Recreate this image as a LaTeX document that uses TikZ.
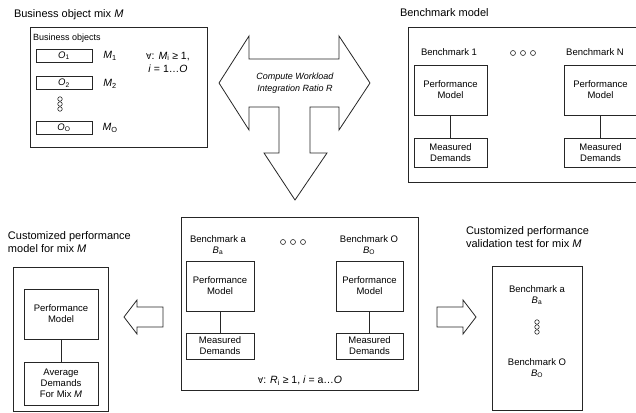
\documentclass[tikz,border=0pt]{standalone}
\usepackage{fontspec}
\setmainfont{Liberation Sans}
\newfontfamily\symfont{DejaVu Sans}
\newcommand\vsub[2]{\textit{#1}\textsubscript{#2}}
\begin{document}
\begin{tikzpicture}[x=1pt,y=-1pt,
  every node/.style={inner sep=0pt, outer sep=0pt},
  frame/.style={draw=black!85, line width=0.8pt},
  box/.style={draw=black!85, line width=0.8pt, align=center, font=\fontsize{9.5}{11}\selectfont},
  title/.style={align=left, anchor=west, font=\fontsize{11}{13}\selectfont},
  lbl/.style={align=center, font=\fontsize{9.5}{11}\selectfont},
  link/.style={draw=black!85, line width=0.8pt},
  dot/.style={circle, draw=black!85, line width=0.6pt, minimum size=5pt},
  bigarrow/.style={draw=black!85, line width=0.8pt, fill=white}
]
\useasboundingbox (0,0) rectangle (636,412);

% ---------- Business object mix ----------
\node[title] (t1) at (14,15) {Business object mix \textit{M}};
\node[frame, minimum width=177pt, minimum height=120pt] (f1) at (118.5,87) {};
\node[anchor=west, font=\fontsize{9}{10}\selectfont] (bo) at (33,38) {Business objects};
\node[box, minimum width=56pt, minimum height=13pt] (o1) at (64,55.5) {\vsub{O}{1}};
\node[box, minimum width=56pt, minimum height=13pt] (o2) at (64,83) {\vsub{O}{2}};
\node[box, minimum width=56pt, minimum height=13pt] (o3) at (64,127.5) {\vsub{O}{O}};
\node[dot, minimum size=4.5pt] (c1) at (60,99) {};
\node[dot, minimum size=4.5pt] (c2) at (60,104) {};
\node[dot, minimum size=4.5pt] (c3) at (60,109) {};
\node[lbl, font=\fontsize{10.5}{12}\selectfont] (m1) at (110,56) {\vsub{M}{1}};
\node[lbl, font=\fontsize{10.5}{12}\selectfont] (m2) at (110,84) {\vsub{M}{2}};
\node[lbl, font=\fontsize{10.5}{12}\selectfont] (m3) at (110,128) {\vsub{M}{O}};
\node[lbl, font=\fontsize{10.5}{13}\selectfont] (fm) at (168,62) {{\symfont\fontsize{8}{10}\selectfont ∀}: \vsub{M}{i} ≥ 1,\\\textit{i} = 1\dots \textit{O}};

% ---------- Big T arrow ----------
\draw[bigarrow] (219,83) -- (249,36) -- (249,59) -- (339,59) -- (339,36) -- (370,83)
  -- (339,130) -- (339,107) -- (310,107) -- (310,153) -- (327,153) -- (295,200)
  -- (264,153) -- (279,153) -- (279,107) -- (249,107) -- (249,130) -- cycle;
\node[lbl, font=\fontsize{9}{12}\selectfont\itshape] (cr) at (295,83) {Compute Workload\\Integration Ratio \textit{R}};

% ---------- Benchmark model ----------
\node[title] (t2) at (400,13) {Benchmark model};
\draw[frame] (640,27) -- (408,27) -- (408,182) -- (640,182);
\node[lbl] (b1) at (449,52) {Benchmark 1};
\node[dot] (d1) at (513,53) {};
\node[dot] (d2) at (523,53) {};
\node[dot] (d3) at (533,53) {};
\node[lbl] (bn) at (595,52) {Benchmark N};
\node[box, minimum width=73pt, minimum height=50pt] (p1) at (450.5,90) {Performance\\Model};
\node[box, minimum width=73pt, minimum height=29pt] (q1) at (450.5,152.5) {Measured\\Demands};
\node[box, minimum width=73pt, minimum height=50pt] (pn) at (600.5,90) {Performance\\Model};
\node[box, minimum width=73pt, minimum height=29pt] (qn) at (600.5,152.5) {Measured\\Demands};
\draw[link] (p1) -- (q1);
\draw[link] (pn) -- (qn);

% ---------- Customized performance model ----------
\node[title] (t3) at (8,242) {Customized performance\\model for mix \textit{M}};
\node[frame, minimum width=95pt, minimum height=144pt] (f3) at (60.5,339) {};
\node[box, minimum width=74pt, minimum height=50pt] (p3) at (61,314) {Performance\\Model};
\node[box, minimum width=74pt, minimum height=43pt] (q3) at (61,383.5) {Average\\Demands\\For Mix \textit{M}};
\draw[link] (p3) -- (q3);

% left arrow
\draw[bigarrow] (124,317) -- (137,300) -- (137,307) -- (163,307) -- (163,327) -- (137,327) -- (137,334) -- cycle;

% ---------- Center bottom box ----------
\node[frame, minimum width=237pt, minimum height=173pt] (f4) at (299.5,303.5) {};
\node[lbl] (ba) at (218,245) {Benchmark a\\\vsub{B}{a}};
\node[dot] (e1) at (283,242) {};
\node[dot] (e2) at (293,242) {};
\node[dot] (e3) at (303,242) {};
\node[lbl] (bo2) at (369,245) {Benchmark O\\\vsub{B}{O}};
\node[box, minimum width=68pt, minimum height=50pt] (p4) at (220,286) {Performance\\Model};
\node[box, minimum width=68pt, minimum height=26pt] (q4) at (220,346) {Measured\\Demands};
\node[box, minimum width=67pt, minimum height=50pt] (p5) at (369.5,286) {Performance\\Model};
\node[box, minimum width=67pt, minimum height=26pt] (q5) at (369.5,346) {Measured\\Demands};
\draw[link] (p4) -- (q4);
\draw[link] (p5) -- (q5);
\node[lbl, font=\fontsize{10.5}{12}\selectfont] (fr) at (300,381) {{\symfont\fontsize{8}{10}\selectfont ∀}: \vsub{R}{i} ≥ 1, \textit{i} = a\dots \textit{O}};

% right arrow
\draw[bigarrow] (437,307) -- (463,307) -- (463,300) -- (476,317) -- (463,334) -- (463,327) -- (437,327) -- cycle;

% ---------- Validation test ----------
\node[title] (t5) at (466,237) {Customized performance\\validation test for mix \textit{M}};
\node[frame, minimum width=90pt, minimum height=144pt] (f5) at (537,338) {};
\node[lbl] (va) at (537,295) {Benchmark a\\\vsub{B}{a}};
\node[dot, minimum size=4.5pt] (g1) at (537,322) {};
\node[dot, minimum size=4.5pt] (g2) at (537,327) {};
\node[dot, minimum size=4.5pt] (g3) at (537,332) {};
\node[lbl] (vo) at (537,368) {Benchmark O\\\vsub{B}{O}};
\end{tikzpicture}
\end{document}
